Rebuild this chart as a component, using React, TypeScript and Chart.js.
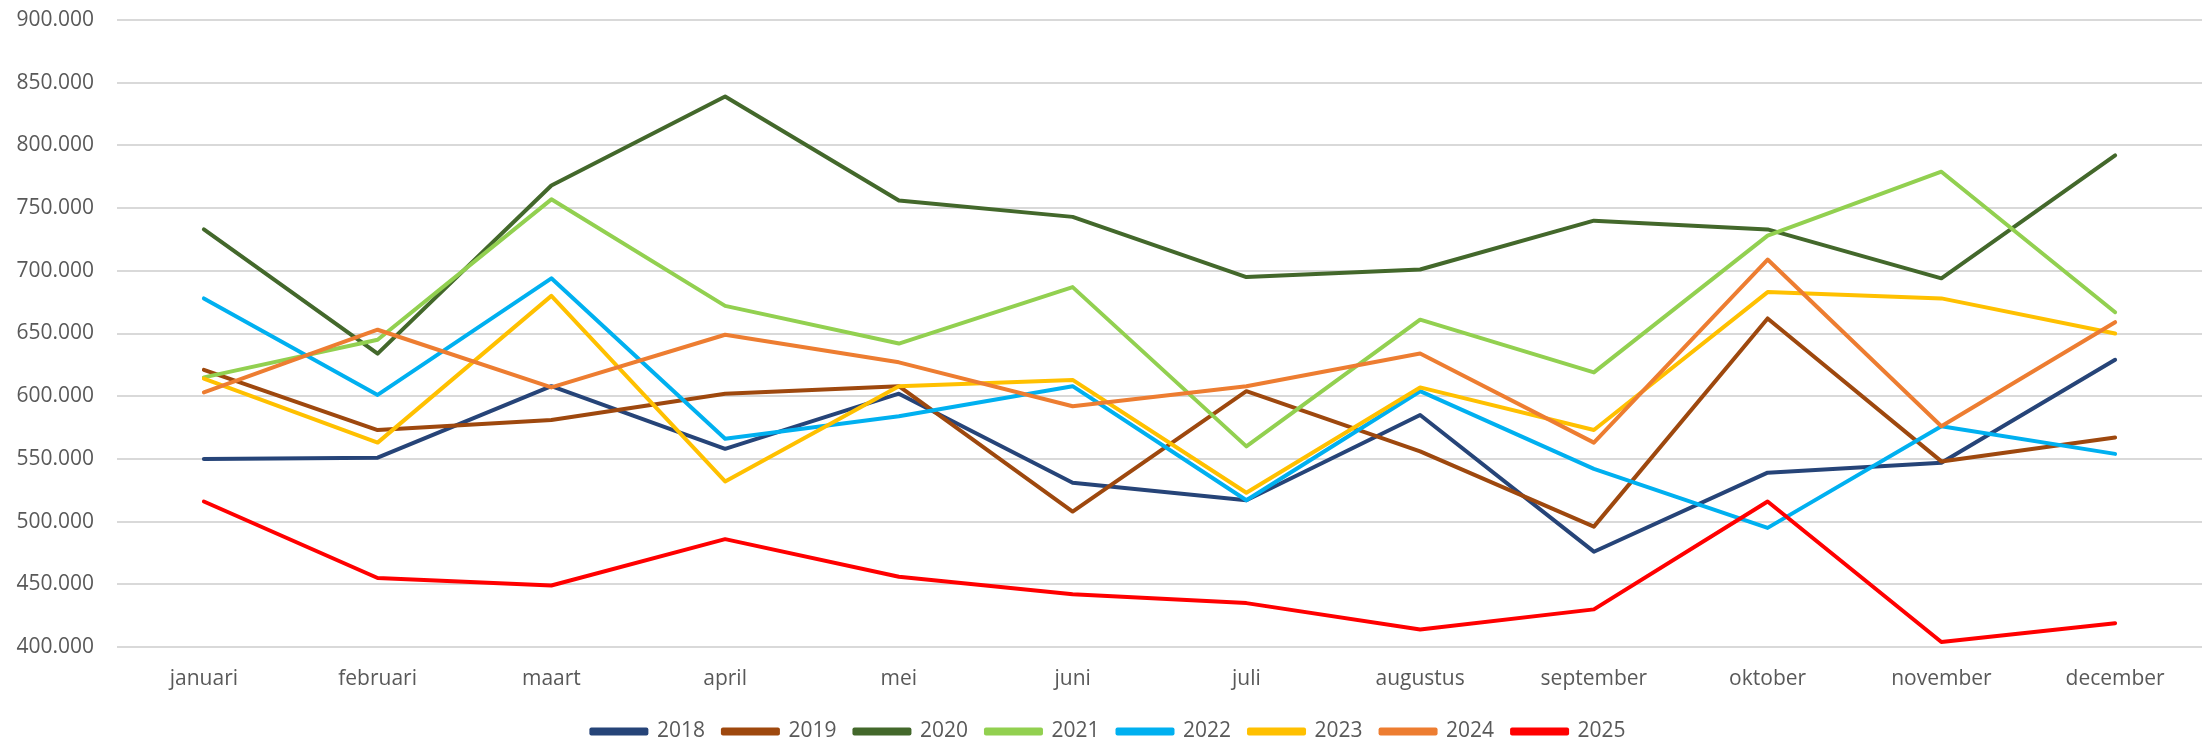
import React, { useEffect, useRef } from "react";
import { Chart, registerables } from "chart.js";

Chart.register(...registerables);

const months = ["januari", "februari", "maart", "april", "mei", "juni", "juli", "augustus", "september", "oktober", "november", "december"];

const years = ["2018", "2019", "2020", "2021", "2022", "2023", "2024", "2025"];

const s2018 = [550000, 551000, 608000, 558000, 602000, 531000, 517000, 585000, 476000, 539000, 547000, 629000];
const s2019 = [621000, 573000, 581000, 602000, 608000, 508000, 604000, 556000, 496000, 662000, 548000, 567000];
const s2020 = [733000, 634000, 768000, 839000, 756000, 743000, 695000, 701000, 740000, 733000, 694000, 792000];
const s2021 = [615000, 645000, 757000, 672000, 642000, 687000, 560000, 661000, 619000, 728000, 779000, 667000];
const s2022 = [678000, 601000, 694000, 566000, 584000, 608000, 517000, 604000, 542000, 495000, 576000, 554000];
const s2023 = [614000, 563000, 680000, 532000, 608000, 613000, 523000, 607000, 573000, 683000, 678000, 650000];
const s2024 = [603000, 653000, 607000, 649000, 627000, 592000, 608000, 634000, 563000, 709000, 576000, 659000];
const s2025 = [516000, 455000, 449000, 486000, 456000, 442000, 435000, 414000, 430000, 516000, 404000, 419000];

const seriesValues = [s2018, s2019, s2020, s2021, s2022, s2023, s2024, s2025];

const colors = ["#264478", "#9E480E", "#43682B", "#92D050", "#00B0F0", "#FFC000", "#ED7D31", "#FF0000"];

const yMin = 400000;
const yMax = 900000;
const yStep = 50000;

const fmt = (v: number) => String(Math.round(v)).replace(/\B(?=(\d{3})+(?!\d))/g, ".");

export default function App() {
  const ref = useRef<HTMLCanvasElement | null>(null);

  useEffect(() => {
    let chart: Chart | null = null;
    let cancelled = false;
    const build = () => {
      if (cancelled || !ref.current) return;
      const font = { family: "'Open Sans', sans-serif", size: 21 };
      chart = new Chart(ref.current, {
        type: "line",
        data: {
          labels: months,
          datasets: years.map((y, i) => ({
            label: y,
            data: seriesValues[i],
            borderColor: colors[i],
            backgroundColor: colors[i],
            borderWidth: 4,
            pointRadius: 0,
            pointHoverRadius: 0,
            tension: 0,
            fill: false,
            borderCapStyle: "round" as const,
            borderJoinStyle: "round" as const,
            order: years.length - i,
          })),
        },
        options: {
          responsive: false,
          animation: false,
          maintainAspectRatio: false,
          layout: { padding: { left: 15, right: 4, top: 20, bottom: 0 } },
          plugins: {
            tooltip: { enabled: false },
            legend: {
              position: "bottom",
              maxHeight: 39,
              labels: {
                font,
                color: "#595959",
                boxWidth: 55,
                boxHeight: 4,
                padding: 18,
                sort: (a: any, b: any) => a.datasetIndex - b.datasetIndex,
              },
            },
          },
          scales: {
            x: {
              type: "category",
              offset: true,
              grid: { display: false, drawTicks: false },
              border: { display: false },
              ticks: { font, color: "#595959", padding: 19, maxRotation: 0, autoSkip: false },
              afterFit: (s: any) => {
                s.height = 56;
              },
            },
            y: {
              min: yMin,
              max: yMax,
              grid: { color: "#D9D9D9", lineWidth: 2, drawTicks: false },
              border: { display: false },
              ticks: {
                stepSize: yStep,
                font,
                color: "#595959",
                padding: 23,
                callback: (v: any) => fmt(Number(v)),
              },
              afterFit: (s: any) => {
                s.width = 102;
                s.paddingTop = 0;
                s.paddingBottom = 0;
              },
            },
          },
        },
      });
    };
    const fonts: any = (document as any).fonts;
    if (fonts && fonts.load) {
      fonts.load("21px 'Open Sans'").then(build, build);
    } else {
      build();
    }
    return () => {
      cancelled = true;
      if (chart) chart.destroy();
    };
  }, []);

  return (
    <div style={{ position: "fixed", left: 0, top: 0, width: 2206, height: 742, background: "#fff" }}>
      <canvas ref={ref} width={2206} height={742} style={{ width: 2206, height: 742, display: "block" }} />
    </div>
  );
}
